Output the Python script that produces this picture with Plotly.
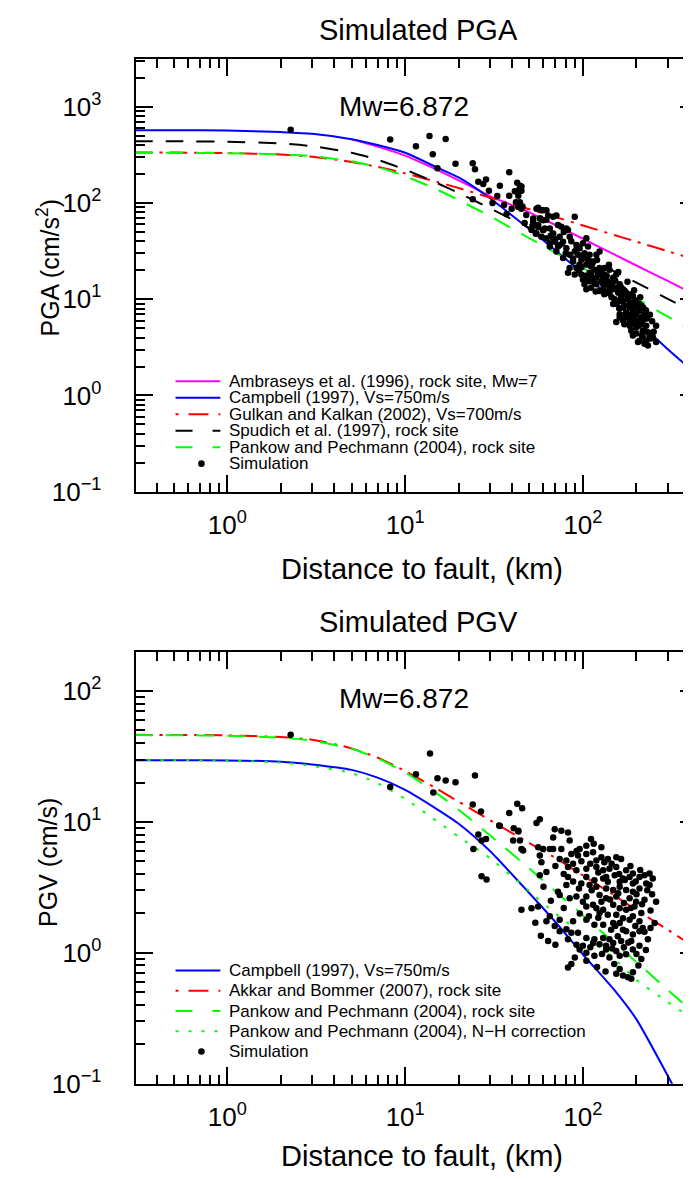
import plotly.graph_objects as go

W, H = 691, 1179

# ---------------- values ----------------
curve_dist = [0.3, 0.5, 1, 2, 3, 5, 7, 10, 15, 20, 30, 50, 70, 100, 150, 200, 300, 450]

# PGA curves (cm/s^2)
pga_ambraseys_dist = [5, 7, 10, 15, 20, 30, 50, 70, 100, 150, 200, 300, 450]
pga_ambraseys = [458, 385, 310, 222, 172, 118, 80, 59, 42.5, 29.2, 22.4, 15.5, 10.6]
pga_campbell = [570, 570, 567, 545, 524, 460, 400, 332, 235, 184, 112, 53.4, 32.2, 18.5, 9.7, 6.0, 3.03, 1.58]
pga_gulkan = [334, 334, 330, 318, 302, 267, 237, 203, 166, 143, 114, 86, 71.4, 58.4, 46.5, 39.6, 31.5, 25.1]
pga_spudich = [438, 437, 433, 415, 389, 332, 281, 222, 162, 127, 88, 55, 40, 28.6, 19.5, 14.9, 10.1, 6.9]
pga_pankow = [332, 332, 329, 320, 306, 271, 236, 190, 139, 107, 73, 43, 30.5, 21.1, 13.8, 10.2, 6.6, 4.3]

# PGV curves (cm/s)
pgv_campbell_dist = [0.3, 0.5, 1, 2, 3, 5, 7, 10, 15, 20, 30, 50, 70, 100, 150, 200, 300, 330]
pgv_campbell = [29.6, 29.6, 29.5, 28.9, 27.5, 25.0, 21.8, 17.6, 12.6, 9.7, 6.0, 2.85, 1.72, 0.97, 0.52, 0.31, 0.115, 0.09]
pgv_akkar = [46.3, 46.2, 45.9, 44.5, 42.5, 36.5, 31.0, 24.5, 18.0, 14.3, 10.3, 6.9, 5.3, 3.9, 2.75, 2.12, 1.5, 1.05]
pgv_pankow = [46.1, 46.0, 45.6, 44.0, 41.8, 36.2, 30.6, 23.9, 16.6, 12.4, 7.9, 4.4, 2.95, 1.93, 1.19, 0.85, 0.52, 0.32]
pgv_pankow_nh = [29.6, 29.6, 29.4, 28.4, 26.8, 23.6, 19.8, 15.0, 10.2, 7.7, 5.3, 2.95, 2.0, 1.38, 0.9, 0.62, 0.42, 0.29]

# simulated PGA points (distance km, cm/s^2)
pga_sim_dist = [
    2.27, 8.24, 11.5, 13.7, 16.9, 14.3, 15.2, 19.2, 24.0, 24.7, 38.5, 25.8, 27.5, 28.5, 29.6, 34.1, 42.7, 45.1,
    41.4, 43.8, 38.5, 42.0, 43.3, 45.7, 24.0, 39.7, 37.2, 56.0, 59.7, 57.7, 62.3, 52.5, 56.0, 59.7, 54.3,
    44.2, 45.1, 43.3, 44.2, 45.1, 54.8, 58.4, 62.3, 63.7, 68.0, 70.9, 57.2, 59.7, 56.0, 61.0, 65.1, 72.4, 75.6,
    80.7, 89.9, 51.4, 54.8, 58.4, 68.0, 74.0, 69.4, 65.1, 77.3, 82.4, 84.2, 104.5, 100, 106.8, 95.8, 102, 109,
    119, 124, 114, 106.8, 74.0, 80.7, 84.2, 89.9, 100, 88.0, 95.8, 104.5, 111, 116, 124, 132, 141, 132, 124,
    119, 109, 102, 104.5, 111, 116, 84.2, 82.4, 89.9, 97.9, 100, 130, 138, 148, 154, 141, 130, 124, 132, 141,
    154, 161, 168, 175, 164, 151, 154, 168, 179, 187, 191, 195, 204, 213, 208, 199, 187, 175, 183, 191, 199,
    213, 222, 213, 199, 183, 168, 154, 161, 168, 183, 217, 232, 237, 227, 222, 208, 204, 191, 258, 247, 258, 232,
    92, 94, 98, 111, 121, 127, 135, 144, 148, 158, 168, 161, 148, 171, 183, 191, 179, 195, 204, 217, 227, 217,
    187, 171, 161, 130, 119, 114, 109, 92, 77.3, 70.9, 65.1, 72.4, 62.3, 52.5,
    95, 103, 113, 126, 136, 146, 152, 163, 172, 178, 186, 197, 207, 218, 226, 238, 245, 230, 205, 185,
    172, 160, 145, 135, 118, 108, 98, 88, 80, 70, 66, 78, 86, 92, 52, 48, 36, 33, 31, 47,
    120, 140, 158, 178, 194, 210, 250, 240, 215, 200]
pga_sim = [
    577, 455, 389, 495, 462, 320, 230, 256, 258, 224, 209, 166, 157, 175, 134, 151, 162, 148,
    132, 136, 119, 102, 91, 92, 109, 87, 77, 89, 84, 69, 67, 64, 56, 52, 48,
    151, 134, 119, 102, 87, 87, 84, 84, 74, 72, 74, 69, 66, 59, 54.3, 54.3, 59, 56.5,
    54.3, 72, 52.3, 48.3, 44.6, 48.3, 44.6, 39.6, 38.1, 39.6, 52.3, 44.6, 42.9, 38.1, 35.2, 33.9, 30.1, 29.0,
    29.0, 31.3, 24.7, 25.7, 36.6, 33.9, 29.0, 31.3, 26.8, 24.7, 22.9, 22.9, 22.0, 20.3, 21.1, 21.1, 20.3, 18.1, 18.1,
    16.7, 15.4, 14.3, 12.7, 13.2, 14.8, 21.1, 18.8, 18.1, 18.1, 16.0, 16.7, 15.4, 16.7, 18.1, 13.2, 12.7, 12.2, 11.3, 11.7,
    13.2, 14.3, 12.7, 11.7, 10.8, 10.0, 8.9, 9.6, 10.0, 9.25, 10.8, 8.55, 8.2, 8.55, 7.6, 7.0, 7.0, 7.3, 6.0, 5.5, 6.0,
    6.5, 7.0, 5.5, 5.1, 5.3, 6.0, 5.8, 7.0, 8.2, 8.2, 4.7, 4.55, 4.05, 3.7, 3.45, 3.7, 3.6, 4.2, 5.3, 4.05, 3.6, 3.3,
    36.6, 29, 25.7, 18.1, 18.8, 15.4, 14.3, 14.8, 12.7, 11.7, 11.3, 9.6, 8.9, 8.55, 8.9, 7.6, 6.5, 6.5, 5.8, 6.0, 5.3, 4.05,
    4.7, 5.5, 6.5, 14.3, 14.3, 16.7, 18.8, 21.1, 26.8, 31.3, 35.2, 35.2, 42.9, 69,
    20, 17.5, 23.5, 19.5, 17.5, 14.0, 15.6, 13.5, 12.2, 10.8, 11.3, 9.7, 9.0, 8.2, 7.7, 6.9, 5.9, 6.3, 5.3, 5.9,
    6.9, 8.0, 10.5, 11.8, 12.0, 15.8, 21.5, 26.5, 30, 42, 46, 50, 40, 33, 58, 75, 95, 118, 100, 62,
    25.5, 22.8, 19.2, 15.2, 12.4, 10.5, 4.6, 3.9, 4.2, 4.4]

# simulated PGV points (distance km, cm/s)
pgv_sim_dist = [
    2.27, 13.8, 11.5, 15.2, 16.9, 19.2, 24.7, 14.4, 8.24, 24.0, 26.7, 33.8, 38.5, 42.7, 45.5, 25.8, 40.8, 43.3,
    57.2, 54.8, 34.1, 43.3, 40.5, 44.2, 69.4, 75.6, 82.4, 68.0, 84.2, 111, 28.5, 26.9, 24.2, 45.1, 46.1, 56.0,
    59.7, 65.1, 68.0, 75.6, 95.8, 104.5, 127, 86.1, 93.8, 104.5, 114, 127, 138, 154, 164, 57.2, 58.4, 74.0,
    80.7, 88.0, 119, 132,
    82.4, 91.9, 104.5, 119, 130, 141, 154, 175, 191, 208, 222, 237, 247, 151, 168, 183, 62.3, 57.2, 26.9, 28.7,
    82.4, 104.5, 116, 130, 138, 161, 191, 227,
    80.7, 97.9, 109, 119, 135, 148, 161, 175, 191, 208, 237, 72.4, 74.0, 84.2, 91.9, 104.5, 124, 135, 154, 183,
    199, 222, 258, 100, 114,
    45.1, 51.4, 56.0, 104.5, 119, 130, 148, 161, 175, 195, 124, 138, 154, 168, 191, 213, 65.1, 74.0, 88.0, 104.5,
    116, 130, 148, 161, 183, 208, 253,
    62.3, 69.4, 74.0, 80.7, 86.1, 93.8, 104.5, 116, 130, 141, 157, 175, 191, 208, 217, 63.7, 82.4, 100, 114, 124,
    135, 148, 164, 187, 208, 232,
    95.8, 104.5, 116, 135, 154, 161, 175, 191, 213, 104.5, 141,
    82.4, 86.1, 154, 161, 168, 179, 187, 191,
    110, 122, 135, 145, 160, 172, 185, 198, 210, 230, 245, 112, 127, 142, 158, 170, 186, 200, 215, 240,
    96, 108, 122, 144, 152, 168, 180, 197, 222, 240, 92, 110, 128, 146, 170, 200, 226, 120, 134, 150,
    205, 95, 88, 78, 70, 98, 92, 115, 60, 66, 78, 54, 58, 70, 90]
pgv_sim = [
    46.4, 33.3, 23.1, 21.6, 20.7, 20.1, 22.6, 16.8, 18.5, 13.6, 12.0, 9.4, 11.7, 13.8, 12.7, 8.0, 8.95, 8.45,
    10.5, 9.8, 9.33, 8.55, 7.2, 7.2, 8.8, 8.55, 8.3, 7.6, 7.2, 7.4, 7.4, 7.2, 6.21, 6.21, 6.04, 6.4,
    6.21, 6.21, 6.21, 6.21, 6.21, 6.59, 6.4, 5.7, 5.54, 5.7, 5.86, 5.38, 5.22, 5.38, 5.22, 5.54, 4.93, 5.22,
    5.08, 4.79, 5.08, 4.93,
    4.52, 4.27, 4.39, 4.52, 4.27, 4.39, 4.52, 4.27, 4.03, 3.80, 3.91, 4.03, 3.69, 3.91, 3.69, 3.80, 4.15, 3.91, 3.85, 3.63,
    3.80, 3.80, 3.59, 3.69, 3.49, 3.49, 3.38, 3.38,
    3.29, 3.38, 3.29, 3.19, 3.10, 3.02, 3.19, 3.02, 2.93, 3.10, 3.29, 2.93, 2.77, 2.61, 2.69, 2.69, 2.77, 2.61, 2.69, 2.61,
    2.46, 2.54, 2.46, 2.46, 2.33,
    2.13, 2.19, 2.26, 2.26, 2.19, 2.13, 2.33, 2.19, 2.13, 2.26, 2.01, 1.95, 1.95, 1.84, 1.90, 2.01, 1.90, 1.79, 1.74, 1.79,
    1.64, 1.64, 1.69, 1.69, 1.79, 1.74, 1.69,
    1.74, 1.60, 1.46, 1.51, 1.42, 1.42, 1.30, 1.27, 1.30, 1.27, 1.34, 1.46, 1.38, 1.46, 1.55, 1.23, 1.27, 1.13, 1.19, 1.16,
    1.13, 1.19, 1.23, 1.23, 1.13, 1.27,
    1.06, 1.00, 0.948, 1.06, 1.03, 0.948, 0.976, 1.06, 0.895, 0.869, 0.921,
    0.773, 0.82, 0.69, 0.751, 0.67, 0.65, 0.632, 0.709,
    4.8, 4.1, 3.8, 4.8, 4.0, 3.6, 4.6, 3.5, 4.3, 3.0, 2.8, 3.0, 2.45, 2.55, 2.85, 2.4, 2.2, 2.8, 2.35, 2.1,
    2.0, 1.9, 1.85, 1.5, 1.6, 1.5, 1.2, 1.6, 1.45, 1.55, 1.15, 1.1, 0.98, 1.08, 1.1, 0.98, 1.05, 0.78, 0.72, 0.82,
    0.8, 3.1, 3.5, 4.0, 4.6, 5.0, 6.0, 6.8, 3.2, 2.5, 2.2, 1.7, 1.35, 1.15, 0.92]

# text
pga_title = "Simulated PGA"
pgv_title = "Simulated PGV"
mw_label = "Mw=6.872"
x_title = "Distance to fault, (km)"
pga_ytitle = "PGA (cm/s<sup>2</sup>)"
pgv_ytitle = "PGV (cm/s)"
pga_legend = ["Ambraseys et al. (1996), rock site, Mw=7", "Campbell (1997), Vs=750m/s",
              "Gulkan and Kalkan (2002), Vs=700m/s", "Spudich et al. (1997), rock site",
              "Pankow and Pechmann (2004), rock site", "Simulation"]
pgv_legend = ["Campbell (1997), Vs=750m/s", "Akkar and Bommer (2007), rock site",
              "Pankow and Pechmann (2004), rock site", "Pankow and Pechmann (2004), N\u2212H correction",
              "Simulation"]
x_ticks = [1, 10, 100]
x_ticktext = ["10<sup>0</sup>", "10<sup>1</sup>", "10<sup>2</sup>"]
pga_yticks = [0.1, 1, 10, 100, 1000]
pga_yticktext = ["10<sup>\u22121</sup>", "10<sup>0</sup>", "10<sup>1</sup>", "10<sup>2</sup>", "10<sup>3</sup>"]
pgv_yticks = [0.1, 1, 10, 100]
pgv_yticktext = ["10<sup>\u22121</sup>", "10<sup>0</sup>", "10<sup>1</sup>", "10<sup>2</sup>"]

# ---------------- styles ----------------
FONT = "Liberation Sans, Arial, sans-serif"
MAG, BLUE, RED, GREEN = "#FF00FF", "#0000FF", "#FF0000", "#00FF00"
DASH = "18px,13px"
DASHDOT = "18px,7px,3px,7px"
DOT = "3px,10px"


def px(x):
    return x / W


def py(y):
    return 1 - y / H


fig = go.Figure()


def line(x, y, color, dash, xa, ya):
    fig.add_trace(go.Scatter(x=x, y=y, mode="lines", line=dict(color=color, width=2, dash=dash, shape="spline", smoothing=0.6),
                             xaxis=xa, yaxis=ya, showlegend=False, hoverinfo="skip"))


# PGA panel
line(pga_ambraseys_dist, pga_ambraseys, MAG, "solid", "x", "y")
line(curve_dist, pga_campbell, BLUE, "solid", "x", "y")
line(curve_dist, pga_gulkan, RED, DASHDOT, "x", "y")
line(curve_dist, pga_spudich, "black", DASH, "x", "y")
line(curve_dist, pga_pankow, GREEN, DASH, "x", "y")
fig.add_trace(go.Scatter(x=pga_sim_dist, y=pga_sim, mode="markers", marker=dict(color="black", size=6.5),
                         xaxis="x", yaxis="y", showlegend=False))

# PGV panel
line(pgv_campbell_dist, pgv_campbell, BLUE, "solid", "x2", "y2")
line(curve_dist, pgv_akkar, RED, DASHDOT, "x2", "y2")
line(curve_dist, pgv_pankow, GREEN, DASH, "x2", "y2")
line(curve_dist, pgv_pankow_nh, GREEN, DOT, "x2", "y2")
fig.add_trace(go.Scatter(x=pgv_sim_dist, y=pgv_sim, mode="markers", marker=dict(color="black", size=6.5),
                         xaxis="x2", yaxis="y2", showlegend=False))

minor_x = [m * 10 ** e for e in range(-1, 3) for m in range(2, 10)]
minor_y1 = [m * 10 ** e for e in range(-1, 4) for m in range(2, 10)]
minor_y2 = [m * 10 ** e for e in range(-1, 3) for m in range(2, 10)]

common = dict(type="log", showline=True, linewidth=2, linecolor="black", mirror="ticks",
              ticks="inside", ticklen=17, tickwidth=1.5, tickcolor="black", showgrid=False, zeroline=False,
              tickfont=dict(family=FONT, size=26, color="black"), tickmode="array")

xdom = [128 / W, 1.0]
xrange = [-0.516, 2.6416]

fig.update_layout(
    width=W, height=H, margin=dict(l=0, r=0, t=0, b=0),
    paper_bgcolor="white", plot_bgcolor="white", showlegend=False,
    xaxis=dict(domain=xdom, range=xrange, anchor="y", tickvals=x_ticks, ticktext=x_ticktext,
               ticklabelstandoff=9,
               minor=dict(tickmode="array", tickvals=minor_x, ticks="inside", ticklen=9, tickwidth=1.5, tickcolor="black"),
               **common),
    yaxis=dict(domain=[py(490), py(52)], range=[-1, 3.492], anchor="x", tickvals=pga_yticks, ticktext=pga_yticktext,
               ticklabelstandoff=27,
               minor=dict(tickmode="array", tickvals=minor_y1, ticks="inside", ticklen=9, tickwidth=1.5, tickcolor="black"),
               **common),
    xaxis2=dict(domain=xdom, range=xrange, anchor="y2", tickvals=x_ticks, ticktext=x_ticktext,
                ticklabelstandoff=9,
                minor=dict(tickmode="array", tickvals=minor_x, ticks="inside", ticklen=9, tickwidth=1.5, tickcolor="black"),
                **common),
    yaxis2=dict(domain=[py(1089.5), py(652)], range=[-1, 2.30103], anchor="x2", tickvals=pgv_yticks, ticktext=pgv_yticktext,
                ticklabelstandoff=27,
                minor=dict(tickmode="array", tickvals=minor_y2, ticks="inside", ticklen=9, tickwidth=1.5, tickcolor="black"),
                **common),
)


def text(t, x, y, size, angle=0, xanchor="center"):
    fig.add_annotation(text=t, x=px(x), y=py(y), xref="paper", yref="paper", showarrow=False,
                       xanchor=xanchor, yanchor="middle", textangle=angle,
                       font=dict(family=FONT, size=size, color="black"))


text(pga_title, 412, 22, 29)
text(pgv_title, 412, 622, 29)
text(mw_label, 397, 100, 28)
text(mw_label, 397, 699, 28)
text(x_title, 415, 568, 29)
text(x_title, 415, 1163, 29)
text(pga_ytitle, 40, 263, 25, angle=-90)
text(pgv_ytitle, 40, 865, 25, angle=-90)


def legend(labels, styles, y0, step):
    for i, (lab, sty) in enumerate(zip(labels, styles)):
        yy = y0 + step * i
        text(lab, 220, yy, 17, xanchor="left")
        if sty is None:
            fig.add_shape(type="circle", xref="paper", yref="paper",
                          x0=px(194 - 3.3), x1=px(194 + 3.3), y0=py(yy + 3.3), y1=py(yy - 3.3),
                          fillcolor="black", line=dict(color="black", width=0))
        else:
            color, dash = sty
            fig.add_shape(type="line", xref="paper", yref="paper", x0=px(168), x1=px(213), y0=py(yy), y1=py(yy),
                          line=dict(color=color, width=2, dash=dash))


LEG_DASH = "17px,20px"
LEG_DASHDOT = "3px,10px,20px,10px"
legend(pga_legend, [(MAG, "solid"), (BLUE, "solid"), (RED, LEG_DASHDOT), ("black", LEG_DASH), (GREEN, LEG_DASH), None],
       378, 16.7)
legend(pgv_legend, [(BLUE, "solid"), (RED, LEG_DASHDOT), (GREEN, LEG_DASH), (GREEN, "3px,10px"), None],
       975, 20.5)

fig.write_html("out.html")
